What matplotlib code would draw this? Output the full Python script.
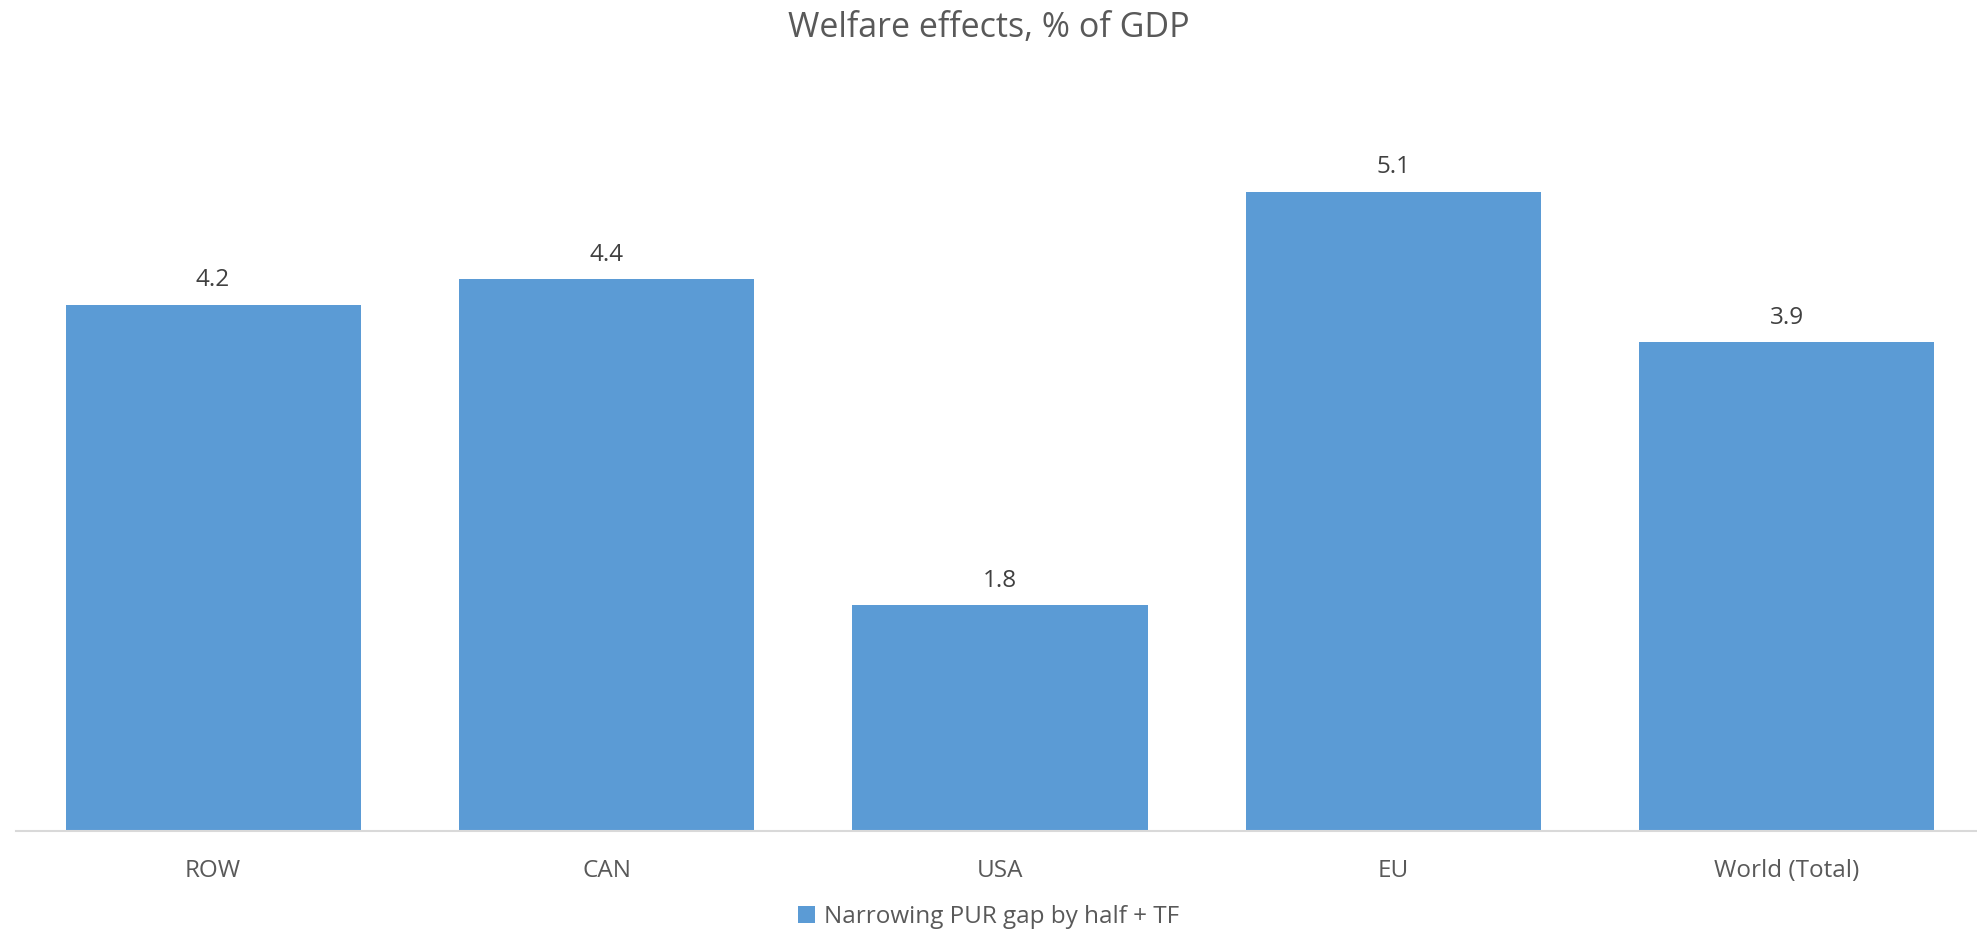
import matplotlib
matplotlib.use('Agg')
import matplotlib.pyplot as plt

# data
regions = ['ROW', 'CAN', 'USA', 'EU', 'World (Total)']
welfare = [4.2, 4.4, 1.8, 5.1, 3.9]
series_name = 'Narrowing PUR gap by half + TF'

plt.rcParams['font.family'] = ['Open Sans', 'DejaVu Sans']

fig = plt.figure(figsize=(19.77, 9.4), dpi=100)
ax = fig.add_axes([0.0083, 0.116, 0.995, 0.8])

bars = ax.bar(regions, welfare, width=0.75, color='#5B9BD5', label=series_name)
ax.set_xlim(-0.5, len(regions) - 0.5)
ax.set_ylim(0, 6)

for b, v in zip(bars, welfare):
    ax.text(b.get_x() + b.get_width() / 2, v + 0.1, f'{v:.1f}',
            ha='center', va='bottom', fontsize=17.5, color='#404040')

for s in ['top', 'right', 'left']:
    ax.spines[s].set_visible(False)
ax.spines['bottom'].set_color('#D9D9D9')
ax.spines['bottom'].set_linewidth(1.5)
ax.set_yticks([])
ax.tick_params(axis='x', length=0, pad=20, labelsize=17.5, labelcolor='#595959')

fig.suptitle('Welfare effects, % of GDP', y=0.988, fontsize=24.5, color='#595959')

fig.legend(loc='lower center', bbox_to_anchor=(0.5, -0.012), frameon=False,
           fontsize=17.5, labelcolor='#595959', handlelength=0.7, handleheight=0.7,
           handletextpad=0.4)

fig.savefig('out.png', dpi=100)
